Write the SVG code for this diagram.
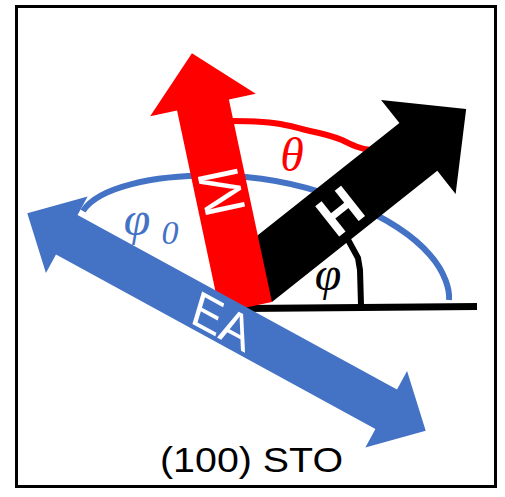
<svg xmlns="http://www.w3.org/2000/svg" width="505" height="497" viewBox="0 0 505 497">
<style>
.lbl{font-family:"Liberation Sans","Open Sans",sans-serif;fill:#fff;text-anchor:middle;dominant-baseline:central}
.math{font-family:"Liberation Serif","DejaVu Serif",serif;font-style:italic;text-anchor:middle}
.ln{fill:none;stroke-linecap:butt;stroke-linejoin:round}
</style>
<rect x="0" y="0" width="505" height="497" fill="#fff"/>
<rect id="frame" x="16.5" y="6.5" width="479" height="480" fill="none" stroke="#000" stroke-width="3"/>
<g id="connectors">
  <path id="phi0-arc" class="ln" d="M 83,211 C 97,189 150,173 230,176 C 320,180 400,220 430,255 C 445,272 450,290 449,300" stroke="#4472C4" stroke-width="6"/>
  <path id="theta-arc" class="ln" d="M 230,121 C 255,121 272,122 285,125 C 296,127 300,129 310,131 C 325,134 332,136 342,140 C 352,145 360,149 371,150" stroke="#FF0000" stroke-width="6"/>
  <path id="phi-arc" class="ln" d="M 346,236 L 352,247 L 358,258 L 360,270 L 361,305" stroke="#000" stroke-width="6"/>
  <line id="baseline" x1="245" y1="308.5" x2="477" y2="306.5" stroke="#000" stroke-width="7"/>
</g>
<g id="H">
  <polygon transform="translate(253,278) rotate(-38.4)" points="0,-30.5 211,-30.5 211,-60 272,0 211,60 211,30.5 0,30.5" fill="#000"/>
  <text class="lbl" transform="translate(340,211) rotate(-38.4)" font-size="56" font-weight="bold">H</text>
</g>
<g id="M">
  <polygon transform="translate(246,307.5) rotate(-12)" points="-26.5,0 26.5,0 26.5,-207 54,-207 0,-260 -54,-207 -26.5,-207" fill="#FF0000"/>
  <text class="lbl" transform="translate(221,192) rotate(-102)" font-size="58">M</text>
</g>
<g id="EA">
  <polygon transform="translate(226.5,322) rotate(28.65)" points="-227,0 -182,-43.5 -182,-22.5 182,-22.5 182,-43.5 227,0 182,43.5 182,22.5 -182,22.5 -182,43.5" fill="#4472C4"/>
  <text class="lbl" transform="translate(222,321) rotate(28.65) skewX(12)" font-size="48">EA</text>
</g>
<g id="labels">
  <text class="math" x="292" y="171" font-size="48" fill="#FF0000">θ</text>
  <text class="math" x="328" y="290" font-size="48" fill="#000">φ</text>
  <text class="math" x="137" y="235" font-size="48" fill="#4472C4">φ</text>
  <text class="math" x="170" y="244" font-size="34" fill="#4472C4" font-style="normal">0</text>
  <text x="251.5" y="472" font-family="Liberation Sans,Open Sans,sans-serif" font-size="35" text-anchor="middle" textLength="183" lengthAdjust="spacingAndGlyphs" fill="#000">(100) STO</text>
</g>
</svg>
